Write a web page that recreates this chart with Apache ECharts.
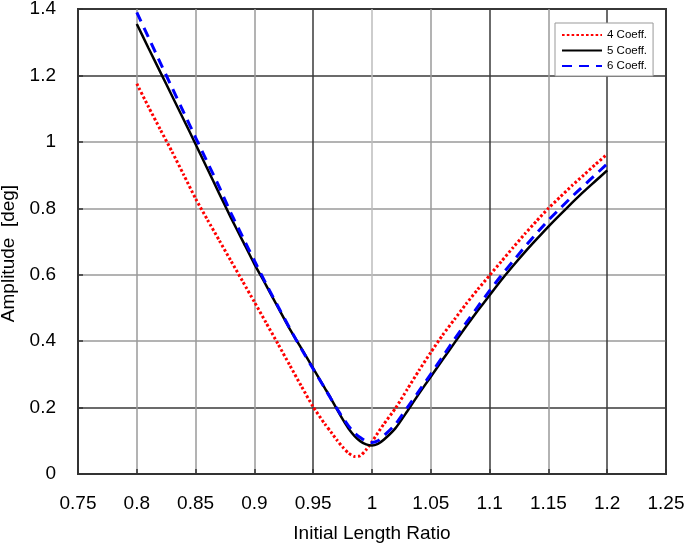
<!DOCTYPE html>
<html>
<head>
<meta charset="utf-8">
<script src="https://cdn.jsdelivr.net/npm/echarts@6/dist/echarts.min.js"></script>
<style>
html,body{margin:0;padding:0;background:#fff;}
#chart{width:685px;height:547px;}
</style>
</head>
<body>
<div id="chart"></div>
<script>
// Data
var ratios = [0.80,0.81,0.82,0.83,0.84,0.85,0.86,0.87,0.88,0.89,0.90,0.91,0.92,0.93,0.94,0.95,0.96,
  0.965,0.97,0.975,0.98,0.985,0.99,0.995,1.00,1.005,
  1.01,1.02,1.03,1.04,1.05,1.06,1.07,1.08,1.09,1.10,1.11,1.12,1.13,1.14,1.15,1.16,1.17,1.18,1.19,1.20];

var coeff4 = [1.175,1.105,1.037,0.970,0.900,0.829,0.766,0.704,0.642,0.580,0.518,0.455,0.392,0.328,0.264,0.202,0.150,
  0.127,0.103,0.081,0.063,0.053,0.055,0.073,0.097,0.124,
  0.150,0.198,0.255,0.312,0.366,0.418,0.465,0.512,0.556,0.598,0.640,0.682,0.723,0.762,0.800,0.834,0.868,0.900,0.932,0.963];

var coeff5 = [1.355,1.282,1.210,1.138,1.066,0.993,0.919,0.845,0.772,0.702,0.632,0.568,0.502,0.437,0.378,0.318,0.258,
  0.228,0.196,0.165,0.137,0.115,0.099,0.089,0.086,0.091,
  0.103,0.138,0.189,0.242,0.293,0.344,0.394,0.444,0.492,0.538,0.584,0.627,0.668,0.707,0.745,0.781,0.816,0.850,0.882,0.914];

var coeff6 = [1.390,1.314,1.238,1.163,1.088,1.013,0.939,0.865,0.786,0.714,0.642,0.572,0.505,0.439,0.376,0.316,0.257,
  0.227,0.198,0.170,0.145,0.124,0.110,0.099,0.095,0.100,
  0.115,0.150,0.200,0.250,0.301,0.353,0.405,0.455,0.504,0.552,0.598,0.641,0.684,0.725,0.764,0.800,0.835,0.868,0.901,0.934];

var seriesNames = ['4 Coeff.', '5 Coeff.', '6 Coeff.'];
var xAxisTitle = 'Initial Length Ratio';
var yAxisTitle = 'Amplitude  [deg]';

function pairs(xs, ys){ return xs.map(function(x,i){ return [x, ys[i]]; }); }

var FONT = '"Liberation Sans", Arial, sans-serif';
var G = '#9a9a9a', D = '#3a3a3a', L = '#bdbdbd';

var chart = echarts.init(document.getElementById('chart'), null, {renderer:'canvas'});
chart.setOption({
  animation: false,
  backgroundColor: '#fff',
  grid: {left: 78, right: 19, top: 9, bottom: 73, show: true, borderColor: '#333', borderWidth: 2,
         backgroundColor: 'transparent', containLabel: false, outerBoundsMode: 'none'},
  legend: {
    data: seriesNames,
    left: 555, top: 23,
    orient: 'vertical',
    itemWidth: 40, itemHeight: 13, itemGap: 3.5,
    padding: [6, 6, 4, 6],
    backgroundColor: '#fff',
    borderColor: '#999', borderWidth: 1,
    selectedMode: false,
    itemStyle: {color: 'transparent', borderColor: 'transparent', borderWidth: 0, opacity: 0},
    textStyle: {fontFamily: FONT, fontSize: 11.5, color: '#000'}
  },
  xAxis: {
    type: 'value', min: 0.75, max: 1.25, interval: 0.05,
    name: xAxisTitle, nameLocation: 'middle', nameGap: 50,
    nameTextStyle: {fontFamily: FONT, fontSize: 19, color: '#000'},
    axisLine: {show: true, lineStyle: {color: '#333', width: 2}},
    axisTick: {show: true, inside: true, length: 5, lineStyle: {color: '#333', width: 1.5}},
    axisLabel: {margin: 20, fontFamily: FONT, fontSize: 19, color: '#000',
      formatter: function(v){ return String(Math.round(v*100)/100); }},
    splitLine: {show: true, lineStyle: {width: 1.5, color: [D,G,G,G,D,L,G,D,G,D,D]}}
  },
  yAxis: {
    type: 'value', min: 0, max: 1.4, interval: 0.2,
    name: yAxisTitle, nameLocation: 'middle', nameGap: 55, nameRotate: 90,
    nameTextStyle: {fontFamily: FONT, fontSize: 19, color: '#000', padding: [0,0,0,-24]},
    axisLine: {show: true, lineStyle: {color: '#333', width: 2}},
    axisTick: {show: true, inside: true, length: 5, lineStyle: {color: '#333', width: 1.5}},
    axisLabel: {margin: 22, fontFamily: FONT, fontSize: 19, color: '#000',
      formatter: function(v){ return String(Math.round(v*10)/10); }},
    splitLine: {show: true, lineStyle: {width: 1.5, color: [D,D,G,G,G,G,D,D]}}
  },
  series: [
    {name: seriesNames[0], type: 'line', data: pairs(ratios, coeff4), symbol: 'none', smooth: 0.2, z: 3,
     lineStyle: {color: '#ff0000', width: 3, type: [2.6, 2.2]}, itemStyle: {color: '#ff0000'}},
    {name: seriesNames[1], type: 'line', data: pairs(ratios, coeff5), symbol: 'none', smooth: 0.2, z: 4,
     lineStyle: {color: '#000000', width: 2.5, type: 'solid'}, itemStyle: {color: '#000'}},
    {name: seriesNames[2], type: 'line', data: pairs(ratios, coeff6), symbol: 'none', smooth: 0.2, z: 5,
     lineStyle: {color: '#0000ff', width: 3, type: [10, 7]}, itemStyle: {color: '#0000ff'}}
  ]
});
</script>
</body>
</html>
